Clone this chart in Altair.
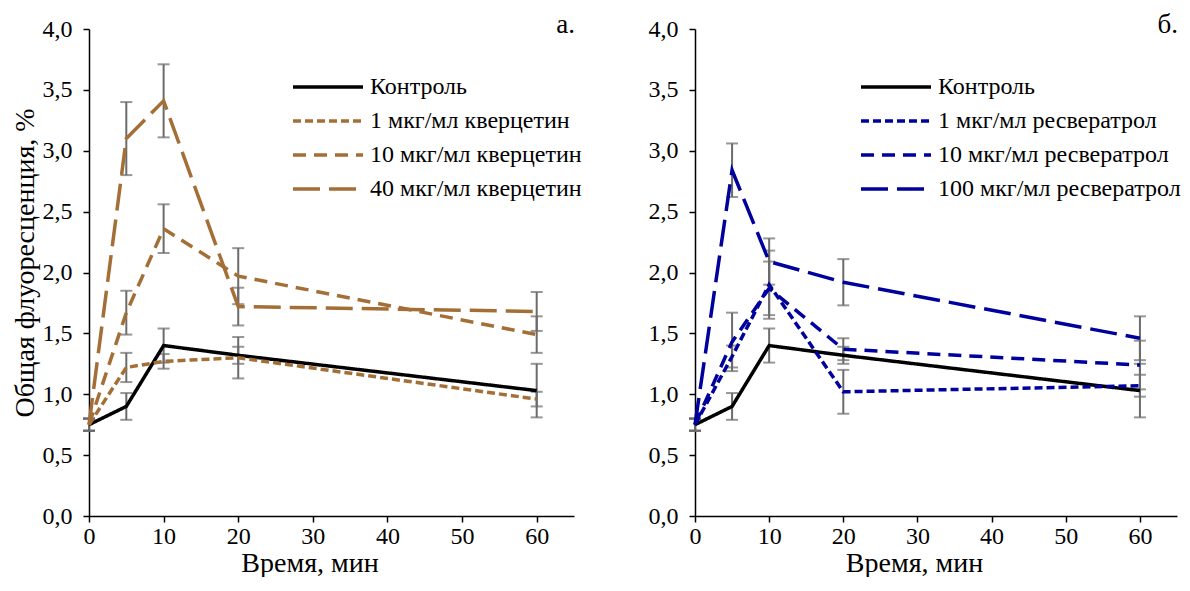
import altair as alt
import pandas as pd

times = [0, 5, 10, 20, 60]

left_names = ["Контроль", "1 мкг/мл кверцетин", "10 мкг/мл кверцетин", "40 мкг/мл кверцетин"]
right_names = ["Контроль", "1 мкг/мл ресвератрол", "10 мкг/мл ресвератрол", "100 мкг/мл ресвератрол"]

control = [0.75, 0.90, 1.40, 1.32, 1.03]
control_err = [0.05, 0.11, 0.14, 0.07, 0.22]

q1 = [0.75, 1.22, 1.27, 1.30, 0.96]
q1_err = [0.05, 0.12, 0.06, 0.17, 0.06]
q10 = [0.75, 1.67, 2.36, 1.97, 1.49]
q10_err = [0.05, 0.18, 0.20, 0.23, 0.15]
q40 = [0.75, 3.10, 3.41, 1.72, 1.68]
q40_err = [0.05, 0.30, 0.30, 0.155, 0.16]

r1 = [0.75, 1.31, 1.90, 1.02, 1.07]
r1_err = [0.05, 0.09, 0.28, 0.18, 0.09]
r10 = [0.75, 1.43, 1.87, 1.37, 1.24]
r10_err = [0.05, 0.24, 0.22, 0.09, 0.20]
r100 = [0.75, 2.84, 2.09, 1.92, 1.46]
r100_err = [0.05, 0.22, 0.19, 0.19, 0.18]

BROWN = "#A46E37"
BLUE = "#00009C"
GRAY = "#6B6B6B"
FONT = "Liberation Serif"
DASHES = [[1, 0], [8, 4], [13, 8], [27, 9]]
PLOT_H = 487


def make_df(names, series, errs):
    rows = []
    for name, vals, es in zip(names, series, errs):
        for t, v, e in zip(times, vals, es):
            rows.append({"series": name, "t": t, "v": v, "lo": v - e, "hi": v + e})
    return pd.DataFrame(rows)


def panel(names, series, errs, color, label, width, height, show_title, leg_x):
    df = make_df(names, series, errs)
    colors = ["#000000", color, color, color]
    xenc = alt.X("t:Q", scale=alt.Scale(domain=[0, 65], nice=False),
                 axis=alt.Axis(values=[0, 10, 20, 30, 40, 50, 60], title="Время, мин",
                               labelFlush=False, titleX=width / 2 - 22))
    if show_title:
        yaxis = alt.Axis(values=[0, 0.5, 1, 1.5, 2, 2.5, 3, 3.5, 4],
                         labelExpr="replace(format(datum.value, '.1f'), '.', ',')",
                         titleY=height / 2 - 10)
        yenc = alt.Y("lo:Q", scale=alt.Scale(domain=[0, 4], nice=False), axis=yaxis,
                     title="Общая флуоресценция, %")
    else:
        yaxis = alt.Axis(values=[0, 0.5, 1, 1.5, 2, 2.5, 3, 3.5, 4],
                         labelExpr="replace(format(datum.value, '.1f'), '.', ',')")
        yenc = alt.Y("lo:Q", scale=alt.Scale(domain=[0, 4], nice=False), axis=yaxis, title=None)

    base = alt.Chart(df)
    bars = base.mark_rule(color=GRAY, strokeWidth=2).encode(x=xenc, y=yenc, y2="hi:Q")
    cap_lo = base.mark_tick(orient="horizontal", size=12, thickness=2, color=GRAY).encode(
        x="t:Q", y="lo:Q")
    cap_hi = base.mark_tick(orient="horizontal", size=12, thickness=2, color=GRAY).encode(
        x="t:Q", y="hi:Q")
    lines = base.mark_line(strokeWidth=3.5, strokeCap="butt").encode(
        x="t:Q",
        y="v:Q",
        color=alt.Color("series:N", scale=alt.Scale(domain=names, range=colors), legend=None),
        strokeDash=alt.StrokeDash("series:N", scale=alt.Scale(domain=names, range=DASHES),
                                  legend=None),
        detail="series:N",
        order="t:Q",
    )
    layers = [bars, cap_lo, cap_hi, lines]
    row_y = [58, 92, 126, 160]
    for i, name in enumerate(names):
        ldf = pd.DataFrame({"name": [name]})
        layers.append(
            alt.Chart(ldf).mark_rule(color=colors[i], strokeWidth=3.5, strokeDash=DASHES[i],
                                     strokeCap="butt").encode(
                x=alt.value(leg_x), x2=alt.value(leg_x + 70), y=alt.value(row_y[i]))
        )
        layers.append(
            alt.Chart(ldf).mark_text(align="left", baseline="middle", font=FONT, fontSize=24,
                                     color="black").encode(
                x=alt.value(leg_x + 77), y=alt.value(row_y[i]), text="name:N")
        )
    layers.append(
        alt.Chart(pd.DataFrame({"name": [label]})).mark_text(
            align="right", baseline="alphabetic", font=FONT, fontSize=27, color="black").encode(
            x=alt.value(width + 1), y=alt.value(4), text="name:N")
    )
    return alt.layer(*layers).properties(width=width, height=height)


left = panel(left_names, [control, q1, q10, q40],
             [control_err, q1_err, q10_err, q40_err], BROWN, "а.", 485, PLOT_H, True, 204)
right = panel(right_names, [control, r1, r10, r100],
              [control_err, r1_err, r10_err, r100_err], BLUE, "б.", 482, PLOT_H, False, 166)

chart = alt.hconcat(left, right, spacing=66).resolve_scale(
    color="independent", strokeDash="independent"
).properties(
    padding={"left": 3, "top": 3, "right": 0, "bottom": 0}
).configure_view(stroke=None).configure_axis(
    domainColor="black", domainWidth=1.5, tickColor="black", tickWidth=1.5, tickSize=6,
    grid=False, labelFont=FONT, labelFontSize=24, labelColor="black",
    titleFont=FONT, titleFontSize=28, titleFontWeight="normal", titleColor="black",
).configure_axisY(labelPadding=11, titlePadding=3).configure_axisX(
    labelPadding=2, titlePadding=1)

chart.save("out.html", embed_options={"renderer": "svg", "actions": False})
